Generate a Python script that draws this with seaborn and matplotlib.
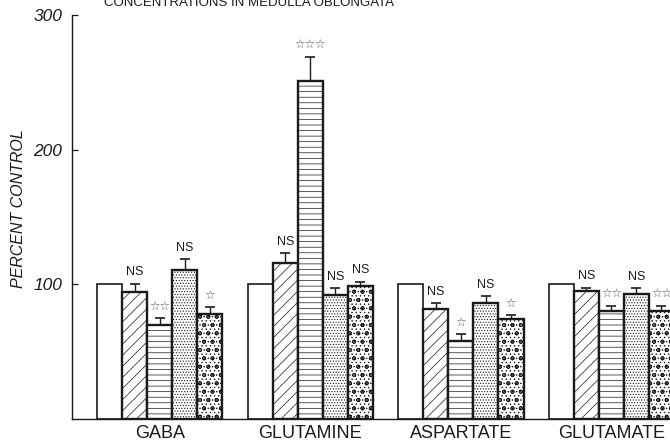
import matplotlib
matplotlib.use("Agg")
import matplotlib.pyplot as plt
import seaborn as sns
import pandas as pd

# Amino acid concentrations, percent of control, with upward SEM
amino_acids = ["GABA", "GLUTAMINE", "ASPARTATE", "GLUTAMATE"]
groups = ["Control", "Group A", "Group B", "Group C", "Group D"]
control = [100, 100, 100, 100]
group_a = [94, 116, 82, 95]
group_b = [70, 251, 58, 80]
group_c = [111, 92, 86, 93]
group_d = [78, 99, 74, 80]
err_a = [6.5, 7, 4, 2.5]
err_b = [5, 18, 5, 4]
err_c = [7.5, 5, 5, 4]
err_d = [5, 3, 3, 4]
sig_a = ["NS", "NS", "NS", "NS"]
sig_b = ["☆☆", "☆☆☆", "☆", "☆☆"]
sig_c = ["NS", "NS", "NS", "NS"]
sig_d = ["☆", "NS", "☆", "☆☆"]
yticks = [100, 200, 300]

values = [control, group_a, group_b, group_c, group_d]
errors = [None, err_a, err_b, err_c, err_d]
marks = [None, sig_a, sig_b, sig_c, sig_d]
hatches = [None, "///", "---", "......", "oo...."]
hatch_colors = [None, "#1a1a1a", "#1a1a1a", "#444444", "#3a3a3a"]

df = pd.DataFrame({
    "amino": [a for _ in groups for a in amino_acids],
    "group": [g for g in groups for _ in amino_acids],
    "value": [v for vals in values for v in vals],
})

sns.set_theme(style="white")
plt.rcParams["font.family"] = ["Liberation Sans", "DejaVu Sans"]
plt.rcParams["hatch.linewidth"] = 0.5
ink = "#1a1a1a"

fig = plt.figure(figsize=(6.7, 4.42), dpi=100)
ax = fig.add_axes([72 / 670, 23 / 442, 598 / 670, 404 / 442])

sns.barplot(data=df, x="amino", y="value", hue="group", hue_order=groups,
            order=amino_acids, width=5 / 6, gap=0, dodge=True, errorbar=None,
            palette=["white"] * 5, edgecolor=ink, linewidth=1.4,
            legend=False, ax=ax)

bar_sets = list(ax.containers)
for i, cont in enumerate(bar_sets):
    for j, bar in enumerate(cont.patches):
        bar.set_facecolor("white")
        bar.set_edgecolor(ink)
        if hatches[i]:
            bar.set_hatch(hatches[i])
            if hasattr(bar, "set_hatchcolor"):
                bar.set_hatchcolor(hatch_colors[i])
            bar.set_linewidth(1.7)
        else:
            bar.set_linewidth(1.2)
        if errors[i] is None:
            continue
        xc = bar.get_x() + bar.get_width() / 2
        top = bar.get_height()
        e = errors[i][j]
        ax.errorbar([xc], [top], yerr=[[0], [e]], fmt="none", ecolor=ink,
                    elinewidth=1.0, capsize=3.5, capthick=1.2, zorder=3)
        label = marks[i][j]
        is_star = "☆" in label
        ax.annotate(label, (xc, top + e), xytext=(0, 4), textcoords="offset points",
                    ha="center", va="bottom", fontsize=8.5 if is_star else 9,
                    color="#555555" if is_star else ink,
                    family=["DejaVu Sans"] if is_star else None,
                    annotation_clip=False)

ax.set_xlim(-0.5833, 3.39)
ax.set_ylim(0, 300)
ax.set_yticks(yticks)
ax.set_yticklabels([str(t) for t in yticks], fontsize=12.5, style="italic", color=ink)
ax.tick_params(axis="y", direction="in", length=4, width=0.9, color=ink, pad=7, left=True)
ax.tick_params(axis="x", length=0, pad=4, labelsize=13, labelcolor=ink)
ax.set_xlabel("")
ax.set_ylabel("PERCENT CONTROL", fontsize=11.5, style="italic", color=ink)
ax.yaxis.set_label_coords(-0.09, 0.52)
ax.yaxis.label.set_verticalalignment("center")
for side in ("top", "right"):
    ax.spines[side].set_visible(False)
for side in ("left", "bottom"):
    ax.spines[side].set_color(ink)
    ax.spines[side].set_linewidth(1.0)

fig.text(249.5 / 670, 1 - 5.5 / 442, "CONCENTRATIONS IN MEDULLA OBLONGATA",
         ha="center", va="baseline", fontsize=9.5, color=ink)

fig.savefig("out.png", dpi=100, facecolor="white")
